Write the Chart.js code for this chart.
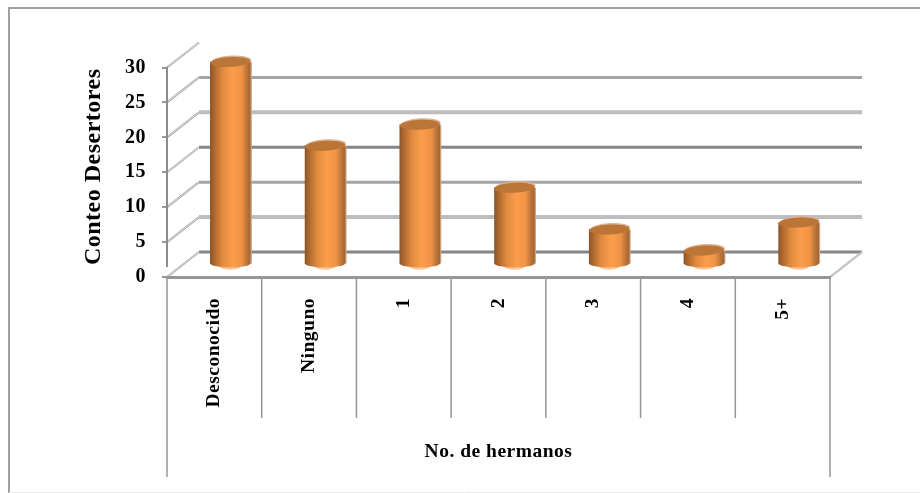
<!DOCTYPE html>
<html><head><meta charset="utf-8">
<style>html,body{margin:0;padding:0;background:#fff}canvas{display:block}</style>
<script src="https://cdn.jsdelivr.net/npm/chart.js@4"></script></head>
<body><div style="width:920px;height:493px"><canvas id="c" width="920" height="493"></canvas></div>
<script>
const categories = ["Desconocido","Ninguno","1","2","3","4","5+"];
const desertores = [29,17,20,11,5,2,6];
const yTicks = [0,5,10,15,20,25,30];
const yTitle = "Conteo Desertores";
const xTitle = "No. de hermanos";

const DX = 32, DY = -25;            // depth of the 3D box
const backStyle = [["#868686",3],["#bdbdbd",4],["#a5a5a5",3],["#868686",3],["#bdbdbd",4],["#a5a5a5",3]];
const serif = "'Liberation Serif'";

function barGradient(c,x){
  const g = c.createLinearGradient(x-20,0,x+20,0);
  g.addColorStop(0,"#8f5528"); g.addColorStop(.12,"#b26c30"); g.addColorStop(.3,"#e08a3f");
  g.addColorStop(.55,"#fb9d4b"); g.addColorStop(.78,"#ef9345"); g.addColorStop(.92,"#b8743a"); g.addColorStop(1,"#a4652f");
  return g;
}
function barFill(ctx){
  const x = ctx.dataIndex === undefined ? NaN : ctx.chart.scales.x.getPixelForValue(ctx.dataIndex);
  if(!Number.isFinite(x)) return "#e08a3f";
  return barGradient(ctx.chart.ctx,x);
}

const box3d = {
  id:"box3d",
  beforeDraw(ch){
    const c = ch.ctx, y = ch.scales.y, a = ch.chartArea;
    c.letterSpacing = "0.5px";
    y.bottom = a.bottom - 11;       // centres the rotated axis title as in the reference
    c.save();
    // outer frame
    c.strokeStyle="#a0a0a0"; c.lineWidth=2;
    c.beginPath(); c.moveTo(920,8); c.lineTo(9,8); c.lineTo(9,493); c.stroke();
    c.strokeStyle="#e8e8e8"; c.lineWidth=1;
    c.beginPath(); c.moveTo(9,492.5); c.lineTo(920,492.5); c.stroke();
    // back wall lines
    yTicks.slice(0,-1).forEach((v,i)=>{
      const p = y.getPixelForValue(v)+DY, s = backStyle[i];
      c.strokeStyle=s[0]; c.lineWidth=s[1];
      c.beginPath(); c.moveTo(a.left+DX,p); c.lineTo(a.right+DX,p); c.stroke();
    });
    // side wall diagonals
    const diag = (x,p)=>{
      c.strokeStyle="#a6a6a6"; c.lineWidth=2.2;
      c.beginPath(); c.moveTo(x,p); c.lineTo(x+DX,p+DY); c.stroke();
      c.strokeStyle="#dedede"; c.lineWidth=1;
      c.beginPath(); c.moveTo(x+1,p-1); c.lineTo(x+DX,p+DY); c.stroke();
    };
    yTicks.forEach(v=>diag(a.left,y.getPixelForValue(v)));
    const b = y.getPixelForValue(0);
    diag(a.right,b);
    // category separators of the multi-level axis
    const xs = ch.scales.x, band = (a.right-a.left)/categories.length;
    c.strokeStyle="#969696"; c.lineWidth=1.5;
    categories.forEach((_,i)=>{
      const left = xs.getPixelForValue(i)-band/2;
      c.beginPath(); c.moveTo(left,b); c.lineTo(left, i===0?477:418); c.stroke();
    });
    c.beginPath(); c.moveTo(a.right,b); c.lineTo(a.right,477); c.stroke();
    c.restore();
  },
  beforeDatasetsDraw(ch){
    const c = ch.ctx;
    c.save(); c.translate(DX/2,DY/2);
    ch.getDatasetMeta(0).data.forEach(el=>{
      c.fillStyle="#fcc79b";
      c.beginPath(); c.ellipse(el.x,el.base+3.2,10,3,0,0,Math.PI*2); c.fill();
      c.fillStyle=barGradient(c,el.x);
      c.beginPath(); c.ellipse(el.x,el.base,20,4,0,0,Math.PI*2); c.fill();
      c.fillStyle="#c9a78a";
      c.fillRect(el.x+20,el.y,1.5,el.base-el.y);
    });
  },
  afterDatasetsDraw(ch){
    const c = ch.ctx;
    ch.getDatasetMeta(0).data.forEach(el=>{
      c.fillStyle="#d9b295";
      c.beginPath(); c.ellipse(el.x+1,el.y-1,20,5.5,-0.05,0,Math.PI*2); c.fill();
      c.fillStyle="#bb7536";
      c.beginPath(); c.ellipse(el.x,el.y,20,5,-0.05,0,Math.PI*2); c.fill();
    });
    c.restore();
  }
};

new Chart(document.getElementById("c"),{
  type:"bar",
  data:{labels:categories,datasets:[{data:desertores,backgroundColor:barFill,borderWidth:0,barThickness:40,clip:false}]},
  plugins:[box3d],
  options:{
    responsive:false,animation:false,
    layout:{padding:{top:67.5,right:90,left:0,bottom:0}},
    plugins:{legend:{display:false},tooltip:{enabled:false}},
    scales:{
      x:{
        afterFit(s){s.height=216;},
        grid:{display:false},
        border:{display:true,color:"#969696",width:3},
        title:{display:true,text:xTitle,color:"#000",font:{family:serif,size:19.5,weight:"bold"},padding:{top:0,bottom:29}},
        ticks:{autoSkip:false,minRotation:90,maxRotation:90,padding:13,color:"#000",font:{family:serif,size:19.5,weight:"bold"}}
      },
      y:{
        min:0,max:30,
        afterFit(s){s.width=167;},
        afterBuildTicks(s){s.ticks=yTicks.map(v=>({value:v}));},
        grid:{drawOnChartArea:false,color:"#969696",lineWidth:2,tickLength:5},
        border:{display:true,color:"#8c8c8c",width:2},
        title:{display:true,text:yTitle,color:"#000",font:{family:serif,size:24,weight:"bold"},padding:{top:79,bottom:0}},
        ticks:{padding:16,color:"#000",font:{family:serif,size:20,weight:"bold"}}
      }
    }
  }
});
</script></body></html>
